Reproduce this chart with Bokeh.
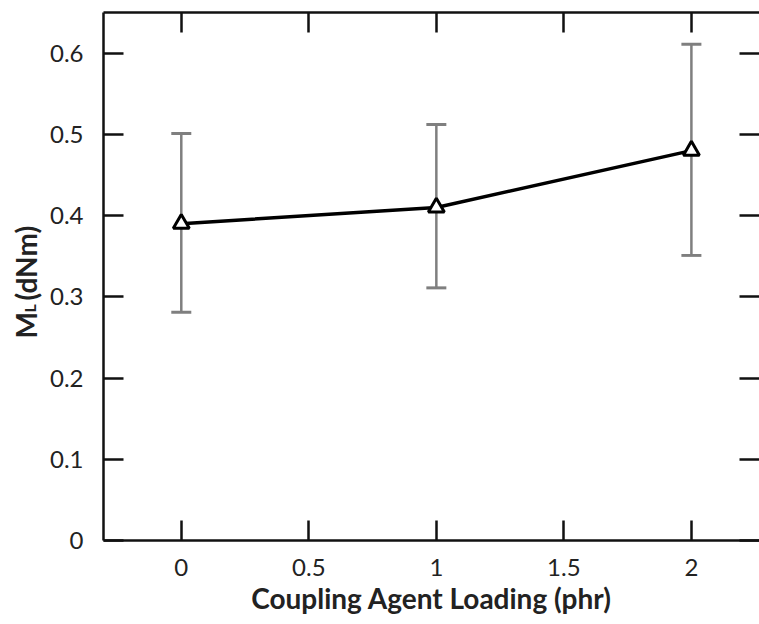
import math
from bokeh.plotting import figure
from bokeh.layouts import row
from bokeh.models import (ColumnDataSource, Whisker, TeeHead, LinearAxis,
                          FixedTicker, Range1d)
from bokeh.core.properties import value
from bokeh.embed import file_html
from bokeh.resources import INLINE

# ---- data ----
loading = [0, 1, 2]
ml_mean = [0.39, 0.41, 0.48]
ml_upper = [0.501, 0.512, 0.611]
ml_lower = [0.281, 0.311, 0.351]

x_ticks = [0, 0.5, 1, 1.5, 2]
y_ticks = [0, 0.1, 0.2, 0.3, 0.4, 0.5, 0.6]

x_title = "Coupling Agent Loading (phr)"
y_title_main = "M"
y_title_sub = "L"
y_title_unit = "(dNm)"

src = ColumnDataSource(dict(x=loading, y=ml_mean, upper=ml_upper, lower=ml_lower))

FONT = "Lato"
TXT = "#222222"
W_LAB = 45
H = 624

p = figure(width=759 - W_LAB, height=H, output_backend="svg", toolbar_location=None,
           x_range=Range1d(-0.305, 2.267), y_range=Range1d(0, 0.65),
           x_axis_location=None, y_axis_location=None,
           min_border_left=103 - W_LAB, min_border_right=0, min_border_top=12,
           min_border_bottom=84)
p.outline_line_color = None
p.xgrid.visible = False
p.ygrid.visible = False
p.background_fill_color = "white"
p.border_fill_color = "white"

def style_axis(ax, labels=True):
    ax.major_tick_in = 20
    ax.major_tick_out = 0
    ax.minor_tick_line_color = None
    ax.axis_line_width = 2.5
    ax.axis_line_color = "#111111"
    ax.major_tick_line_width = 2.5
    ax.major_tick_line_color = "#111111"
    if labels:
        ax.major_label_text_font = FONT
        ax.major_label_text_font_size = "24px"
        ax.major_label_text_color = TXT
    else:
        ax.major_label_text_font_size = "1px"
        ax.major_label_text_color = None
        ax.major_label_standoff = 0

bottom = LinearAxis(ticker=FixedTicker(ticks=x_ticks))
style_axis(bottom)
bottom.major_label_standoff = 18
bottom.axis_label = x_title
bottom.axis_label_text_font = FONT
bottom.axis_label_text_font_style = "bold"
bottom.axis_label_text_font_size = "28px"
bottom.axis_label_text_color = TXT
bottom.axis_label_standoff = 2
p.add_layout(bottom, "below")

left = LinearAxis(ticker=FixedTicker(ticks=y_ticks))
style_axis(left)
left.major_label_standoff = 20
left.major_label_overrides = {0: "0"}
p.add_layout(left, "left")

top = LinearAxis(ticker=FixedTicker(ticks=x_ticks))
style_axis(top, labels=False)
p.add_layout(top, "above")

right = LinearAxis(ticker=FixedTicker(ticks=y_ticks))
style_axis(right, labels=False)
right.axis_line_color = None
p.add_layout(right, "right")

# error bars
wh = Whisker(source=src, base="x", upper="upper", lower="lower",
             line_color="#7f7f7f", line_width=2.5,
             upper_head=TeeHead(size=20, line_color="#7f7f7f", line_width=3),
             lower_head=TeeHead(size=20, line_color="#7f7f7f", line_width=3))
p.add_layout(wh)

p.line("x", "y", source=src, line_color="black", line_width=3.5)
p.scatter("x", "y", source=src, marker="triangle", size=16,
          fill_color="white", line_color="black", line_width=3)

# narrow side figure holding the vertical y-axis title (M_L (dNm));
# its frame is aligned with the main frame (canvas y 12..540), so the
# y range below is expressed in canvas pixels.
lf = figure(width=W_LAB, height=H, output_backend="svg", toolbar_location=None,
            x_range=Range1d(0, W_LAB), y_range=Range1d(540, 12),
            x_axis_location=None, y_axis_location=None,
            min_border=0, min_border_left=0, min_border_right=0,
            min_border_top=0, min_border_bottom=0)
lf.outline_line_color = None
lf.xgrid.visible = False
lf.ygrid.visible = False
lf.border_fill_color = "white"
kw = dict(angle=math.pi / 2, text_font=value(FONT), text_font_style="bold",
          text_color=TXT, text_align="left", text_baseline="alphabetic")
lf.text(x=[25], y=[338], text=[y_title_main], text_font_size="28px", **kw)
lf.text(x=[29], y=[312], text=[y_title_sub], text_font_size="16px", **kw)
lf.text(x=[25], y=[300], text=[y_title_unit], text_font_size="28px", **kw)

layout = row(lf, p, spacing=0)
open("out.html", "w").write(file_html(layout, INLINE))
